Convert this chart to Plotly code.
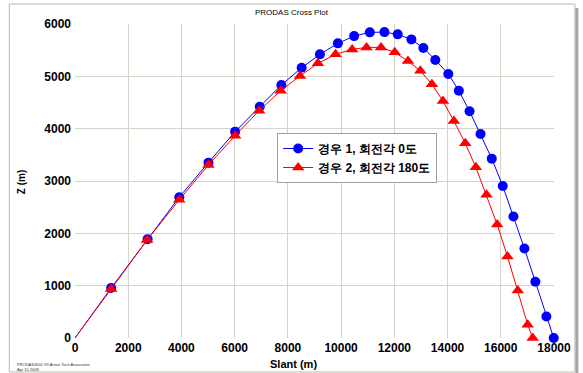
import plotly.graph_objects as go

# Trajectory cross plot: Z (height) against slant range
case1_slant = [1357, 2729, 3918, 5016, 6017, 6943, 7753, 8517, 9203, 9878, 10489,
               11078, 11629, 12127, 12641, 13091, 13541, 14028, 14425, 14826,
               15239, 15662, 16075, 16476, 16888, 17300, 17713, 17990]
case1_z = [954, 1889, 2691, 3351, 3943, 4420, 4834, 5164, 5420, 5630, 5769,
           5840, 5845, 5802, 5706, 5540, 5313, 5046, 4725, 4332,
           3899, 3427, 2906, 2321, 1710, 1074, 412, 0]

case2_slant = [1357, 2707, 3918, 5016, 6017, 6920, 7730, 8454, 9128, 9792, 10414,
               10954, 11501, 12015, 12513, 12977, 13413, 13826, 14238, 14665,
               15063, 15464, 15865, 16251, 16638, 17012, 17200]
case2_z = [935, 1872, 2640, 3307, 3866, 4344, 4725, 5006, 5248, 5420, 5515,
           5553, 5553, 5458, 5292, 5107, 4847, 4529, 4147, 3721,
           3263, 2735, 2168, 1557, 908, 254, 0]

launch_slant = [0]
launch_z = [0]

case1_name = "경우 1, 회전각 0도"
case2_name = "경우 2, 회전각 180도"

x_ticks = list(range(0, 18001, 2000))
x_ticktext = [str(v) for v in x_ticks]
y_ticks = list(range(0, 6001, 1000))
y_ticktext = [str(v) for v in y_ticks]

BLUE = "#0000FF"
RED = "#FF0000"
GRID = "#d6d3cb"
FONT = "Liberation Sans"

fig = go.Figure()

# Line segments from the launch point to the first marker
fig.add_trace(go.Scatter(x=launch_slant + case1_slant[:1], y=launch_z + case1_z[:1],
                         mode="lines", line=dict(color=BLUE, width=1),
                         showlegend=False, hoverinfo="skip", cliponaxis=False))
fig.add_trace(go.Scatter(x=case1_slant, y=case1_z, mode="lines+markers",
                         name=case1_name,
                         line=dict(color=BLUE, width=1),
                         marker=dict(symbol="circle", size=10, color=BLUE),
                         cliponaxis=False))
fig.add_trace(go.Scatter(x=launch_slant + case2_slant[:1], y=launch_z + case2_z[:1],
                         mode="lines", line=dict(color=RED, width=1),
                         showlegend=False, hoverinfo="skip", cliponaxis=False))
fig.add_trace(go.Scatter(x=case2_slant, y=case2_z, mode="lines+markers",
                         name=case2_name,
                         line=dict(color=RED, width=1),
                         marker=dict(symbol="triangle-up", size=11, color=RED),
                         cliponaxis=False))

# Plot area geometry in pixels
W, H = 583, 373
L, R, T, B = 75, 27, 24, 35
pw, ph = W - L - R, H - T - B


def px_x(p):
    return (p - L) / pw


def px_y(p):
    return (H - B - p) / ph


axis_common = dict(showgrid=True, gridcolor=GRID, gridwidth=1, zeroline=False,
                   showline=False, ticks="", tickmode="array",
                   tickfont=dict(family=FONT, size=12, color="#000", weight="bold"))

fig.update_layout(
    width=W, height=H,
    margin=dict(l=L, r=R, t=T, b=B),
    paper_bgcolor="white", plot_bgcolor="white",
    showlegend=True,
    legend=dict(x=px_x(278), y=px_y(133), xanchor="left", yanchor="top",
                bgcolor="white", bordercolor="#a0a0a0", borderwidth=1,
                font=dict(family=FONT, size=12, color="#000", weight="bold"),
                tracegroupgap=2, itemwidth=30),
    xaxis=dict(range=[0, 18000], tickvals=x_ticks, ticktext=x_ticktext,
               ticklabelstandoff=1, **axis_common),
    yaxis=dict(range=[0, 6000], tickvals=y_ticks, ticktext=y_ticktext,
               ticklabelstandoff=3, **axis_common),
    annotations=[
        dict(text="PRODAS Cross Plot", x=px_x(293), y=px_y(13), xref="paper", yref="paper",
             xanchor="center", yanchor="middle",
             showarrow=False, font=dict(family=FONT, size=8, color="#000")),
        dict(text="<b>Slant (m)</b>", x=px_x(294), y=px_y(364), xref="paper", yref="paper",
             xanchor="center", yanchor="middle",
             showarrow=False, font=dict(family=FONT, size=11, color="#000")),
        dict(text="<b>Z (m)</b>", x=px_x(21), y=px_y(182), xref="paper", yref="paper",
             xanchor="center", yanchor="middle",
             showarrow=False, textangle=-90, font=dict(family=FONT, size=10, color="#000")),
        dict(text="PRODAS2000 V3 Arrow Tech Associates<br>Apr 10 2008",
             x=px_x(15), y=px_y(360), xref="paper", yref="paper", xanchor="left",
             yanchor="top", align="left", showarrow=False,
             font=dict(family=FONT, size=4, color="#333")),
    ],
    shapes=[
        dict(type="rect", xref="paper", yref="paper",
             x0=px_x(9), x1=px_x(577), y0=px_y(372), y1=px_y(4),
             line=dict(color="#b8b8b0", width=1), layer="below"),
        dict(type="line", xref="paper", yref="paper",
             x0=px_x(579), x1=px_x(579), y0=px_y(373), y1=px_y(8),
             line=dict(color="#a8a8a8", width=3)),
    ],
)

fig.write_html("out.html")
